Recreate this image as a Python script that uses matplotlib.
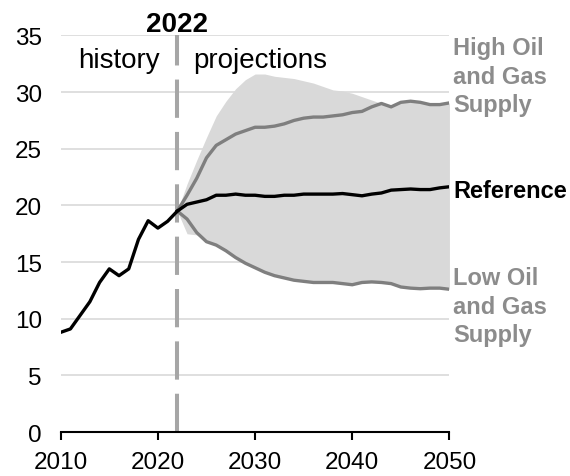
import numpy as np
import matplotlib.pyplot as plt

plt.rcParams['font.family'] = ['Liberation Sans', 'DejaVu Sans']

# history 2010-2022
hist_years = np.arange(2010, 2023)
hist_vals = [8.8, 9.1, 10.3, 11.5, 13.2, 14.4, 13.8, 14.4, 17.0, 18.65, 18.0, 18.6, 19.5]

# projections 2022-2050
proj_years = np.arange(2022, 2051)
reference = [19.5, 20.1, 20.3, 20.5, 20.9, 20.9, 21.0, 20.9, 20.9, 20.8, 20.8,
             20.9, 20.9, 21.0, 21.0, 21.0, 21.0, 21.05, 20.95, 20.85, 21.0, 21.1,
             21.35, 21.4, 21.45, 21.4, 21.4, 21.55, 21.65]
high_supply = [19.5, 20.9, 22.4, 24.2, 25.3, 25.8, 26.3, 26.6, 26.9, 26.9, 27.0,
               27.2, 27.5, 27.7, 27.8, 27.8, 27.9, 28.0, 28.2, 28.3, 28.7, 29.0,
               28.7, 29.1, 29.2, 29.1, 28.9, 28.9, 29.05]
low_supply = [19.5, 18.8, 17.6, 16.8, 16.5, 16.0, 15.4, 14.9, 14.5, 14.1, 13.8,
              13.6, 13.4, 13.3, 13.2, 13.2, 13.2, 13.1, 13.0, 13.2, 13.25, 13.2,
              13.1, 12.8, 12.7, 12.65, 12.7, 12.7, 12.6]
# side-case envelope
env_upper = [19.5, 21.9, 24.0, 26.0, 27.9, 29.2, 30.3, 31.1, 31.6, 31.6, 31.4,
             31.3, 31.2, 31.0, 30.8, 30.5, 30.2, 30.1, 29.9, 29.6, 29.3, 29.0,
             28.8, 29.1, 29.2, 29.1, 28.9, 28.9, 29.05]
env_lower = [19.5, 17.5, 17.4, 16.8, 16.5, 16.0, 15.4, 14.9, 14.5, 14.1, 13.8,
             13.6, 13.4, 13.3, 13.2, 13.2, 13.2, 13.1, 13.0, 13.2, 13.25, 13.2,
             13.1, 12.8, 12.7, 12.65, 12.7, 12.7, 12.6]

gray_line = '#7f7f7f'
gray_text = '#8c8c8c'

fig = plt.figure(figsize=(5.7, 4.77), dpi=100)
ax = fig.add_axes([0.1065, 0.0922, 0.682, 0.8313])

ax.fill_between(proj_years, env_lower, env_upper, color='#d9d9d9', lw=0, zorder=1)
ax.plot(proj_years, high_supply, color=gray_line, lw=2.4, zorder=3)
ax.plot(proj_years, low_supply, color=gray_line, lw=2.4, zorder=3)
ax.plot(proj_years, reference, color='black', lw=2.4, zorder=4)
ax.plot(hist_years, hist_vals, color='black', lw=2.4, zorder=4)

ax.axvline(2022, color='#a6a6a6', lw=2.9, dashes=(9.5, 3.5), zorder=2)

ax.set_xlim(2010, 2050)
ax.set_ylim(0, 35)
ax.set_xticks([2010, 2020, 2030, 2040, 2050])
ax.set_yticks(range(0, 36, 5))
ax.yaxis.grid(True, color='#d9d9d9', lw=1.2, zorder=0)
ax.set_axisbelow(True)
for s in ['top', 'right', 'left']:
    ax.spines[s].set_visible(False)
ax.spines['bottom'].set_linewidth(1.5)
ax.tick_params(axis='y', length=0, labelsize=17.5, pad=13.5)
ax.tick_params(axis='x', length=6, width=1.5, labelsize=17.5, pad=8)

ax.text(2022, 34.85, '2022', ha='center', va='bottom', fontsize=20, fontweight='bold')
ax.text(2016.0, 32.8, 'history', ha='center', va='center', fontsize=20)
ax.text(2023.6, 32.8, 'projections', ha='left', va='center', fontsize=20)

ax.text(2050.4, high_supply[-1] + 2.35, 'High Oil\nand Gas\nSupply', ha='left', va='center',
        fontsize=17, fontweight='bold', color=gray_text, linespacing=1.3, clip_on=False)
ax.text(2050.4, reference[-1] - 0.3, 'Reference', ha='left', va='center',
        fontsize=17, fontweight='bold', color='black', clip_on=False)
ax.text(2050.4, low_supply[-1] - 1.5, 'Low Oil\nand Gas\nSupply', ha='left', va='center',
        fontsize=17, fontweight='bold', color=gray_text, linespacing=1.3, clip_on=False)

fig.savefig('out.png', dpi=100)
